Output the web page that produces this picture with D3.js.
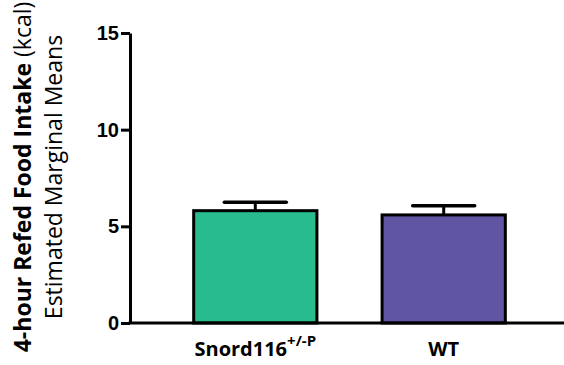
<!DOCTYPE html>
<html><head><meta charset="utf-8">
<script src="https://cdn.jsdelivr.net/npm/d3@7"></script>
<style>body{margin:0;background:#fff}svg{display:block}</style>
</head><body>
<script>
const categories = ["Snord116", "WT"];
const means = [5.81, 5.59];
const errors = [0.43, 0.48];
const colors = ["#27BB8E", "#5F55A2"];
const yTicks = [0, 5, 10, 15];

const W = 564, H = 365;
const svg = d3.select("body").append("svg").attr("width", W).attr("height", H);
const x0 = 130, y0 = 323, yTop = 33;
const y = d3.scaleLinear().domain([0, 15]).range([y0, yTop]);
const x = d3.scaleBand().domain(categories).range([x0, 569]).paddingInner(0.33).paddingOuter(0.33);

// bars
const g = svg.append("g");
categories.forEach((c, i) => {
  const bx = x(c) + 1.5, bw = x.bandwidth() - 3;
  const cx = bx + bw / 2;
  g.append("line").attr("x1", cx).attr("x2", cx).attr("y1", y(means[i])).attr("y2", y(means[i] + errors[i]))
    .attr("stroke", "#000").attr("stroke-width", 3);
  g.append("line").attr("x1", cx - 31).attr("x2", cx + 31)
    .attr("y1", y(means[i] + errors[i])).attr("y2", y(means[i] + errors[i]))
    .attr("stroke", "#000").attr("stroke-width", 3.5).attr("stroke-linecap", "round");
  g.append("rect").attr("x", bx).attr("y", y(means[i])).attr("width", bw).attr("height", y0 - y(means[i]))
    .attr("fill", colors[i]).attr("stroke", "#000").attr("stroke-width", 3);
});

// y axis
const ya = svg.append("g").attr("transform", `translate(${x0},0)`)
  .call(d3.axisLeft(y).tickValues(yTicks).tickSize(9).tickSizeOuter(0).tickPadding(2));
ya.select(".domain").attr("stroke", "#000").attr("stroke-width", 3);
ya.selectAll(".tick line").attr("stroke", "#000").attr("stroke-width", 3);
ya.selectAll(".tick text").style("font-family", "'Liberation Sans', Arial, sans-serif")
  .style("font-weight", "bold").style("font-size", "20px").attr("fill", "#000");

// x axis line
svg.append("line").attr("x1", x0 - 1.5).attr("x2", W).attr("y1", y0).attr("y2", y0)
  .attr("stroke", "#000").attr("stroke-width", 3);

// x labels
const lab = svg.append("g").attr("font-family", "Open Sans, Noto Sans, sans-serif").attr("font-weight", "bold")
  .attr("font-size", 20).attr("fill", "#000");
const t1 = lab.append("text").attr("x", x(categories[0]) + x.bandwidth() / 2).attr("y", 356).attr("text-anchor", "middle");
t1.append("tspan").text(categories[0]);
t1.append("tspan").attr("font-size", 15).attr("dy", -10).text("+/-P");
lab.append("text").attr("x", x(categories[1]) + x.bandwidth() / 2).attr("y", 356).attr("text-anchor", "middle").text(categories[1]);

// y title
const tt = svg.append("g").attr("transform", "translate(0,177) rotate(-90)")
  .attr("font-family", "Open Sans, Noto Sans, sans-serif").attr("font-size", 23).attr("fill", "#000");
const l1 = tt.append("text").attr("x", 0).attr("y", 31).attr("text-anchor", "middle");
l1.append("tspan").attr("font-weight", "bold").text("4-hour Refed Food Intake");
l1.append("tspan").text(" (kcal)");
tt.append("text").attr("x", 0).attr("y", 62).attr("text-anchor", "middle").text("Estimated Marginal Means");
</script>
</body></html>
